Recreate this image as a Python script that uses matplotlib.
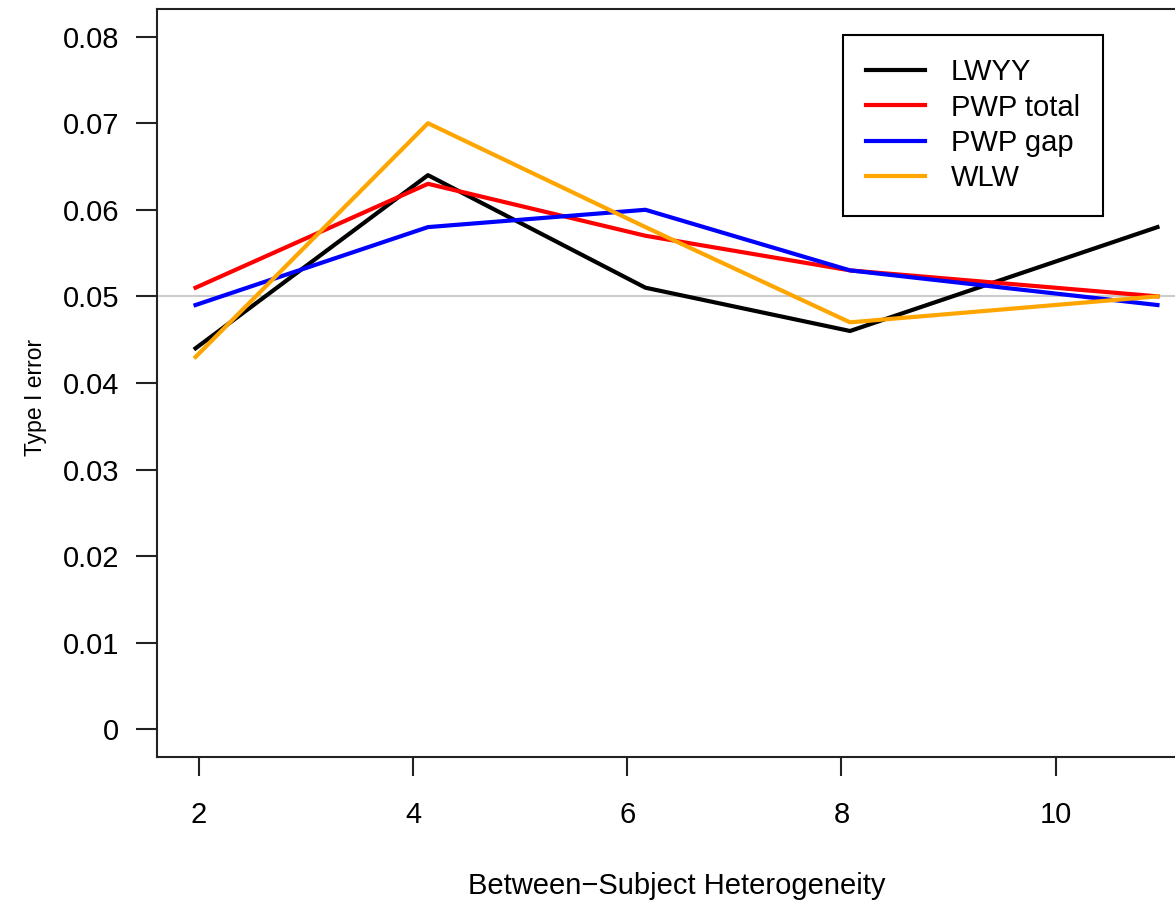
import matplotlib
matplotlib.use("Agg")
import matplotlib.pyplot as plt

plt.rcParams['font.family'] = ['Liberation Sans', 'DejaVu Sans']

# heterogeneity levels (x) and type I error for each estimator
heterogeneity = [1.97, 4.14, 6.17, 8.08, 10.95]
lwyy = [0.044, 0.064, 0.051, 0.046, 0.058]
pwp_total = [0.051, 0.063, 0.057, 0.053, 0.050]
pwp_gap = [0.049, 0.058, 0.060, 0.053, 0.049]
wlw = [0.043, 0.070, 0.058, 0.047, 0.050]

series_names = ['LWYY', 'PWP total', 'PWP gap', 'WLW']
series_colors = ['black', 'red', 'blue', 'orange']

x_ticks = [2, 4, 6, 8, 10]
y_ticks = [0, 0.01, 0.02, 0.03, 0.04, 0.05, 0.06, 0.07, 0.08]
y_tick_labels = ['0', '0.01', '0.02', '0.03', '0.04', '0.05', '0.06', '0.07', '0.08']
nominal = 0.05

fig = plt.figure(figsize=(11.75, 9.02), dpi=100)
ax = fig.add_axes([0.1336, 0.1608, 0.8843, 0.8293])

ax.axhline(nominal, color='#cccccc', lw=1.5, zorder=1)
for ys, name, col in zip([lwyy, pwp_total, pwp_gap, wlw], series_names, series_colors):
    ax.plot(heterogeneity, ys, color=col, lw=3, label=name, zorder=2)

ax.set_xlim(1.61, 11.31)
ax.set_ylim(-0.0032, 0.0832)
ax.set_xticks(x_ticks)
ax.set_xticklabels([str(t) for t in x_ticks])
ax.set_yticks(y_ticks)
ax.set_yticklabels(y_tick_labels)

for s in ax.spines.values():
    s.set_linewidth(1.5)
    s.set_color('#222222')
ax.tick_params(axis='y', direction='out', length=15, width=1.5, pad=12,
               labelsize=21, color='#222222')
ax.tick_params(axis='x', direction='out', length=14, width=1.5, pad=18,
               labelsize=21, color='#222222')

ax.set_xlabel('Between\u2212Subject Heterogeneity', fontsize=21)
ax.xaxis.set_label_coords(0.5, -0.154)
ax.set_ylabel('Type I error', fontsize=16.5)
ax.yaxis.set_label_coords(-0.106, 0.481)

leg = ax.legend(loc='upper left', bbox_to_anchor=(843 / 1175, 1 - 35 / 902),
                bbox_transform=fig.transFigure, fontsize=21, frameon=True,
                fancybox=False, framealpha=1, edgecolor='black',
                handlelength=2.0, handletextpad=0.9, labelspacing=0.25,
                borderpad=0.8, borderaxespad=0)
leg.get_frame().set_linewidth(1.5)

fig.savefig('out.png', dpi=100)
